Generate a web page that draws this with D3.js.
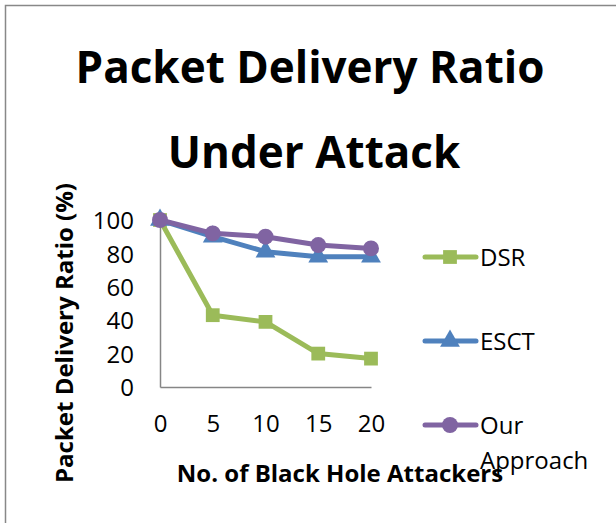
<!DOCTYPE html>
<html>
<head>
<meta charset="utf-8">
<script src="https://cdn.jsdelivr.net/npm/d3@7"></script>
<style>
  html, body { margin: 0; padding: 0; background: #fff; }
  svg { display: block; font-family: "Open Sans", "Noto Sans", sans-serif; }
</style>
</head>
<body>
<svg id="chart" width="616" height="523"></svg>
<script>
// Number of black hole attackers (category axis)
const attackers = [0, 5, 10, 15, 20];
// Packet delivery ratio (%) per protocol
const dsr = [100, 43, 39, 20, 17];
const esct = [100, 90, 81, 78, 78];
const ourApproach = [100, 92, 90, 85, 83];
const yTicks = [0, 20, 40, 60, 80, 100];
const seriesNames = ["DSR", "ESCT", "Our Approach"];

const series = [
  { name: seriesNames[0], values: dsr, color: "#9BBB59", symbol: d3.symbolSquare, size: 190 },
  { name: seriesNames[1], values: esct, color: "#4F81BD", symbol: d3.symbolTriangle, size: 170 },
  { name: seriesNames[2], values: ourApproach, color: "#8064A2", symbol: d3.symbolCircle, size: 200 }
];

const svg = d3.select("#chart");

// Chart area frame
svg.append("rect")
  .attr("x", 5.5).attr("y", 5.5)
  .attr("width", 640).attr("height", 540)
  .attr("fill", "#fff").attr("stroke", "#888").attr("stroke-width", 1.5);

// Title
const title = svg.append("text")
  .attr("text-anchor", "middle")
  .attr("font-weight", "bold")
  .attr("font-size", 44)
  .attr("fill", "#000");
title.append("tspan").attr("x", 310).attr("y", 83).text("Packet Delivery Ratio");
title.append("tspan").attr("x", 314).attr("y", 168).text("Under Attack");

const x = d3.scalePoint().domain(attackers).range([160, 371]);
const y = d3.scaleLinear().domain([0, 100]).range([387, 220]);

// Y axis
const yAxis = svg.append("g")
  .attr("transform", "translate(160,0)")
  .call(d3.axisLeft(y).tickValues(yTicks).tickSize(0).tickPadding(10));
yAxis.select(".domain").attr("stroke", "#868686").attr("stroke-width", 1.5);
yAxis.selectAll("text")
  .attr("font-size", 24).attr("fill", "#000")
  .attr("font-family", "Open Sans, Noto Sans, sans-serif")
  .attr("dx", -16).attr("dy", "0.36em");

// X axis
const xAxis = svg.append("g")
  .attr("transform", "translate(0,387)")
  .call(d3.axisBottom(x).tickSize(0).tickPadding(28));
xAxis.select(".domain").attr("stroke", "#868686").attr("stroke-width", 1.5);
xAxis.selectAll("text")
  .attr("font-size", 24).attr("fill", "#000")
  .attr("font-family", "Open Sans, Noto Sans, sans-serif");

// Axis titles
svg.append("text")
  .attr("transform", "translate(73,333) rotate(-90)")
  .attr("text-anchor", "middle")
  .attr("font-weight", "bold").attr("font-size", 24)
  .text("Packet Delivery Ratio (%)");

svg.append("text")
  .attr("x", 340).attr("y", 482)
  .attr("text-anchor", "middle")
  .attr("font-weight", "bold").attr("font-size", 24)
  .text("No. of Black Hole Attackers");

// Lines and markers
const line = d3.line()
  .x((d, i) => x(attackers[i]))
  .y(d => y(d));

series.forEach(s => {
  svg.append("path")
    .datum(s.values)
    .attr("d", line)
    .attr("fill", "none")
    .attr("stroke", s.color)
    .attr("stroke-width", 5)
    .attr("stroke-linejoin", "round")
    .attr("stroke-linecap", "round");
  svg.selectAll(null)
    .data(s.values)
    .join("path")
    .attr("transform", (d, i) => `translate(${x(attackers[i])},${y(d)})`)
    .attr("d", d3.symbol().type(s.symbol).size(s.size))
    .attr("fill", s.color);
});

// Legend
const legendY = [257, 341, 425];
series.forEach((s, i) => {
  const g = svg.append("g").attr("transform", `translate(0,${legendY[i]})`);
  g.append("line")
    .attr("x1", 425).attr("x2", 476)
    .attr("stroke", s.color).attr("stroke-width", 5).attr("stroke-linecap", "round");
  g.append("path")
    .attr("transform", "translate(450,0)")
    .attr("d", d3.symbol().type(s.symbol).size(s.size))
    .attr("fill", s.color);
  const t = g.append("text").attr("font-size", 24).attr("fill", "#000");
  const words = s.name.split(" ");
  words.forEach((w, k) => {
    t.append("tspan").attr("x", 480).attr("y", 9 + k * 35).text(w);
  });
});
</script>
</body>
</html>
